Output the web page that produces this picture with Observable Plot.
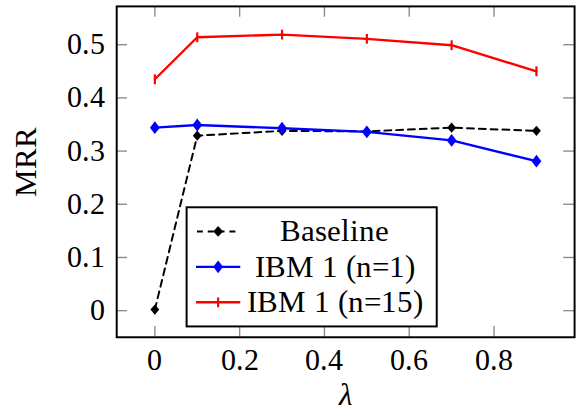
<!DOCTYPE html>
<html>
<head>
<meta charset="utf-8">
<script src="https://cdn.jsdelivr.net/npm/d3@7"></script>
<script src="https://cdn.jsdelivr.net/npm/@observablehq/plot@0.6"></script>
<style>
@font-face { font-family: "ChartSerif"; src: local("Liberation Serif"), local("LiberationSerif"), local("Liberation Serif Regular"), local("LiberationSerif-Regular"); font-style: normal; }
@font-face { font-family: "ChartSerif"; src: local("Liberation Serif Italic"), local("LiberationSerif-Italic"); font-style: italic; }
html, body { margin: 0; padding: 0; overflow: hidden; background: white; font-family: "ChartSerif", "Liberation Serif", "Times New Roman", "DejaVu Serif", serif; }
#chart { width: 581px; height: 418px; overflow: hidden; }
</style>
</head>
<body>
<div id="chart"></div>
<script>
const lambdas = [0, 0.1, 0.3, 0.5, 0.7, 0.9];
const baseline = [0.002, 0.329, 0.338, 0.337, 0.344, 0.338];
const ibm1n1 = [0.344, 0.349, 0.343, 0.336, 0.320, 0.281];
const ibm1n15 = [0.435, 0.514, 0.519, 0.511, 0.499, 0.450];
const seriesNames = ["Baseline", "IBM 1 (n=1)", "IBM 1 (n=15)"];
const xTicks = [0, 0.2, 0.4, 0.6, 0.8];
const yTicks = [0, 0.1, 0.2, 0.3, 0.4, 0.5];

const font = "ChartSerif, Liberation Serif, Times New Roman, DejaVu Serif, serif";
const W = 590, H = 418, mL = 118, mR = 7, mT = 6, mB = 76;
const innerW = W - mL - mR, innerH = H - mT - mB;
const tickLen = 11;

function tallDiamond(ratio) {
  return {
    draw(ctx, size) {
      const r = Math.sqrt(size / Math.PI);
      const h = r * ratio;
      ctx.moveTo(0, -h); ctx.lineTo(r, 0); ctx.lineTo(0, h); ctx.lineTo(-r, 0); ctx.closePath();
    }
  };
}
const vbar = {
  draw(ctx, size) {
    const r = Math.sqrt(size / Math.PI);
    ctx.moveTo(0, -r); ctx.lineTo(0, r);
  }
};

const mk = (vals) => lambdas.map((x, i) => ({x, y: vals[i]}));
const dBase = mk(baseline), dN1 = mk(ibm1n1), dN15 = mk(ibm1n15);
const fmt = d => String(d);

function draw() {
  const plot = Plot.plot({
    width: W, height: H,
    marginLeft: mL, marginRight: mR, marginTop: mT, marginBottom: mB,
    style: {fontFamily: font, fontSize: "30px", color: "black", background: "white"},
    x: {domain: [-0.09, 0.99]},
    y: {domain: [-0.05, 0.572]},
    marks: [
      Plot.tickX(xTicks, {x: d => d, insetTop: innerH - tickLen, stroke: "#8c8c8c", strokeWidth: 1.4}),
      Plot.tickX(xTicks, {x: d => d, insetBottom: innerH - tickLen, stroke: "#8c8c8c", strokeWidth: 1.4}),
      Plot.tickY(yTicks, {y: d => d, insetRight: innerW - tickLen, stroke: "#8c8c8c", strokeWidth: 1.4}),
      Plot.tickY(yTicks, {y: d => d, insetLeft: innerW - tickLen, stroke: "#8c8c8c", strokeWidth: 1.4}),
      Plot.axisX(xTicks, {tickSize: 0, tickPadding: 12, label: null, fontSize: 30, tickFormat: fmt, fontFamily: font}),
      Plot.axisY(yTicks, {tickSize: 0, tickPadding: 12, label: null, fontSize: 30, tickFormat: fmt, fontFamily: font}),
      Plot.frame({stroke: "black", strokeWidth: 2}),
      Plot.line(dBase, {x: "x", y: "y", stroke: "black", strokeWidth: 2, strokeDasharray: "7,5"}),
      Plot.dot(dBase, {x: "x", y: "y", symbol: tallDiamond(1.15), r: 4.5, fill: "black", stroke: "none"}),
      Plot.line(dN1, {x: "x", y: "y", stroke: "#0000ff", strokeWidth: 2.4}),
      Plot.dot(dN1, {x: "x", y: "y", symbol: tallDiamond(1.3), r: 5, fill: "#0000ff", stroke: "none"}),
      Plot.line(dN15, {x: "x", y: "y", stroke: "#ff0000", strokeWidth: 2.4}),
      Plot.dot(dN15, {x: "x", y: "y", symbol: vbar, r: 5, fill: "none", stroke: "#ff0000", strokeWidth: 2.2})
    ]
  });

  document.getElementById("chart").appendChild(plot);

  const svg = d3.select(plot);
  svg.attr("font-family", font);
  svg.append("text")
    .attr("transform", "translate(26,165) rotate(-90)")
    .attr("text-anchor", "middle").attr("dominant-baseline", "central")
    .attr("font-size", 31).text("MRR");
  svg.append("text")
    .attr("x", 351).attr("y", 401)
    .attr("text-anchor", "middle").attr("dominant-baseline", "central")
    .attr("font-size", 31).attr("font-style", "italic").text("λ");

  const lg = svg.append("g");
  lg.append("rect").attr("x", 189.5).attr("y", 210.5).attr("width", 254).attr("height", 121)
    .attr("fill", "white").attr("stroke", "black").attr("stroke-width", 2);
  const styles = [
    {stroke: "black", dash: true, mark: "dBlack"},
    {stroke: "#0000ff", dash: false, mark: "dBlue"},
    {stroke: "#ff0000", dash: false, mark: "bar"}
  ];
  seriesNames.forEach((name, i) => {
    const cy = 235 + i * 36;
    const s = styles[i];
    const ln = lg.append("line").attr("x1", 199).attr("x2", 244).attr("y1", cy).attr("y2", cy)
      .attr("stroke", s.stroke).attr("stroke-width", i === 0 ? 2 : 2.4);
    if (s.dash) ln.attr("stroke-dasharray", "6,5").attr("stroke-dashoffset", -1);
    const cx = 221.5;
    if (s.mark === "dBlack") {
      lg.append("path").attr("d", `M${cx},${cy-5.5}L${cx+5},${cy}L${cx},${cy+5.5}L${cx-5},${cy}Z`).attr("fill", "black");
    } else if (s.mark === "dBlue") {
      lg.append("path").attr("d", `M${cx},${cy-6.5}L${cx+5},${cy}L${cx},${cy+6.5}L${cx-5},${cy}Z`).attr("fill", "#0000ff");
    } else {
      lg.append("line").attr("x1", cx).attr("x2", cx).attr("y1", cy - 5).attr("y2", cy + 5)
        .attr("stroke", "#ff0000").attr("stroke-width", 2.2);
    }
    lg.append("text").attr("x", 340).attr("y", cy).attr("text-anchor", "middle")
      .attr("dominant-baseline", "central").attr("font-size", 31).text(name);
  });
  svg.selectAll("text").attr("font-family", font).style("font-family", font);
}

let drawn = false;
function once() { if (!drawn) { drawn = true; draw(); } }
if (document.fonts && document.fonts.load) {
  Promise.all([
    document.fonts.load('30px "ChartSerif"'),
    document.fonts.load('italic 30px "ChartSerif"'),
    document.fonts.load('30px "Liberation Serif"')
  ]).then(once, once);
  setTimeout(once, 300);
} else {
  once();
}
</script>
</body>
</html>
